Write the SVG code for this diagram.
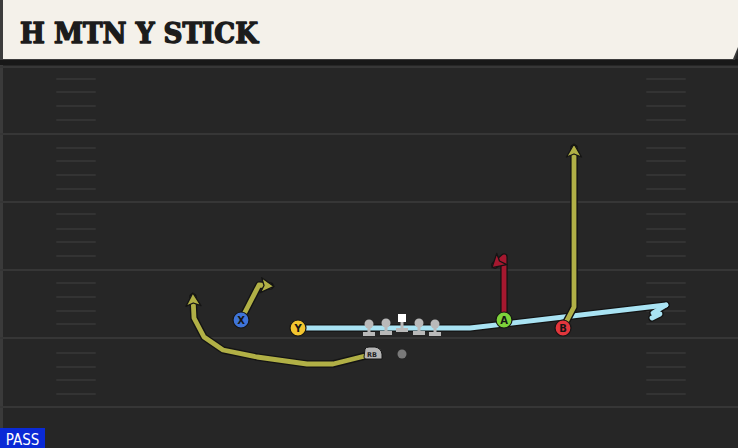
<svg xmlns="http://www.w3.org/2000/svg" width="738" height="448" viewBox="0 0 738 448">
<defs>
<style>
.yard{stroke:#363636;stroke-width:2}
.hash{stroke:#333333;stroke-width:2;stroke-linecap:round}
.outline{fill:none;stroke:#141414;stroke-width:7.5;stroke-linejoin:round;stroke-linecap:round}
.route{fill:none;stroke-width:4.8;stroke-linejoin:round;stroke-linecap:round}
.olive{stroke:#b1b046}
.red{stroke:#a5182f}
.blue{stroke:#a9e3f3}
.pl{stroke:#151515;stroke-width:1.2}
.lbl{font-family:"DejaVu Sans","Liberation Sans",sans-serif;font-weight:bold;font-size:10px;fill:#151515;text-anchor:middle}
.ol{fill:#b9b9b9}
</style>
<marker id="arOlive" viewBox="-14 -10 20 20" refX="0" refY="0" markerWidth="20" markerHeight="20" markerUnits="userSpaceOnUse" orient="auto">
<path d="M-9,-7.5 L4,0 L-9,7.5 L-6,0 Z" fill="#b1b046" stroke="#141414" stroke-width="1.3" stroke-linejoin="round"/>
</marker>
<marker id="arRed" viewBox="-14 -10 20 20" refX="0" refY="0" markerWidth="20" markerHeight="20" markerUnits="userSpaceOnUse" orient="auto">
<path d="M-9,-7.5 L4,0 L-9,7.5 L-6,0 Z" fill="#a5182f" stroke="#141414" stroke-width="1.3" stroke-linejoin="round"/>
</marker>
</defs>
<rect x="0" y="0" width="738" height="448" fill="#262626"/>
<rect x="0" y="60" width="3" height="388" fill="#3a3a3a"/>
<g id="field">
<line class="yard" x1="0" y1="67" x2="738" y2="67"/>
<line class="yard" x1="0" y1="134" x2="738" y2="134"/>
<line class="yard" x1="0" y1="202" x2="738" y2="202"/>
<line class="yard" x1="0" y1="270" x2="738" y2="270"/>
<line class="yard" x1="0" y1="338" x2="738" y2="338"/>
<line class="yard" x1="0" y1="407" x2="738" y2="407"/>
<g id="hashL">
<line class="hash" x1="57" y1="79" x2="95" y2="79"/><line class="hash" x1="57" y1="92" x2="95" y2="92"/><line class="hash" x1="57" y1="106" x2="95" y2="106"/><line class="hash" x1="57" y1="120" x2="95" y2="120"/>
<line class="hash" x1="57" y1="148" x2="95" y2="148"/><line class="hash" x1="57" y1="161" x2="95" y2="161"/><line class="hash" x1="57" y1="175" x2="95" y2="175"/><line class="hash" x1="57" y1="189" x2="95" y2="189"/>
<line class="hash" x1="57" y1="214" x2="95" y2="214"/><line class="hash" x1="57" y1="229" x2="95" y2="229"/><line class="hash" x1="57" y1="242" x2="95" y2="242"/><line class="hash" x1="57" y1="256" x2="95" y2="256"/>
<line class="hash" x1="57" y1="283" x2="95" y2="283"/><line class="hash" x1="57" y1="297" x2="95" y2="297"/><line class="hash" x1="57" y1="311" x2="95" y2="311"/><line class="hash" x1="57" y1="324" x2="95" y2="324"/>
<line class="hash" x1="57" y1="353" x2="95" y2="353"/><line class="hash" x1="57" y1="367" x2="95" y2="367"/><line class="hash" x1="57" y1="380" x2="95" y2="380"/><line class="hash" x1="57" y1="394" x2="95" y2="394"/>
</g>
<g id="hashR">
<line class="hash" x1="647" y1="79" x2="685" y2="79"/><line class="hash" x1="647" y1="92" x2="685" y2="92"/><line class="hash" x1="647" y1="106" x2="685" y2="106"/><line class="hash" x1="647" y1="120" x2="685" y2="120"/>
<line class="hash" x1="647" y1="148" x2="685" y2="148"/><line class="hash" x1="647" y1="161" x2="685" y2="161"/><line class="hash" x1="647" y1="175" x2="685" y2="175"/><line class="hash" x1="647" y1="189" x2="685" y2="189"/>
<line class="hash" x1="647" y1="214" x2="685" y2="214"/><line class="hash" x1="647" y1="229" x2="685" y2="229"/><line class="hash" x1="647" y1="242" x2="685" y2="242"/><line class="hash" x1="647" y1="256" x2="685" y2="256"/>
<line class="hash" x1="647" y1="283" x2="685" y2="283"/><line class="hash" x1="647" y1="297" x2="685" y2="297"/><line class="hash" x1="647" y1="311" x2="685" y2="311"/><line class="hash" x1="647" y1="324" x2="685" y2="324"/>
<line class="hash" x1="647" y1="353" x2="685" y2="353"/><line class="hash" x1="647" y1="367" x2="685" y2="367"/><line class="hash" x1="647" y1="380" x2="685" y2="380"/><line class="hash" x1="647" y1="394" x2="685" y2="394"/>
</g>
</g>
<g id="header">
<rect x="0" y="59" width="738" height="6" fill="#181818"/>
<path d="M0,0 H738 V50 L735,60 H0 Z" fill="#3c3c3c"/>
<path d="M3,0 H738 V47 L733,59 H3 Z" fill="#f4f1ea"/>
<text x="20" y="43" font-family="'DejaVu Serif Condensed','DejaVu Serif',serif" font-weight="bold" font-size="27" fill="#1c1c1c" stroke="#1c1c1c" stroke-width="1.3" stroke-linejoin="round" textLength="238" lengthAdjust="spacingAndGlyphs">H MTN Y STICK</text>
</g>
<g id="connectors">
<path class="outline" d="M298,328 H470 L666,305"/>
<path class="outline" d="M666,305 L653,313 L660,314 L652,318"/>
<path class="route blue" d="M298,328 H470 L666,305"/>
<path class="route blue" d="M666,305 L653,313 L660,314 L652,318" stroke-width="4"/>
<path class="outline" d="M241,320 L259,285 L270,286"/>
<path class="route olive" d="M241,320 L259,285 L270,286" marker-end="url(#arOlive)"/>
<path class="outline" d="M373,354 L333,364 L307,364 L257,357 L223,350 L204,337 L194,318 L193,297"/>
<path class="route olive" d="M373,354 L333,364 L307,364 L257,357 L223,350 L204,337 L194,318 L193,297" marker-end="url(#arOlive)"/>
<path class="outline" d="M504,320 V257 L495,265"/>
<path class="route red" d="M504,320 V257 L495,265" marker-end="url(#arRed)"/>
<path class="outline" d="M563,328 L574,307 V148"/>
<path class="route olive" d="M563,328 L574,307 V148" marker-end="url(#arOlive)"/>
</g>
<g id="OL1"><circle class="ol" cx="369" cy="324" r="4.5"/><rect class="ol" x="367.5" y="327" width="3" height="6"/><rect class="ol" x="363" y="332" width="12" height="4"/></g>
<g id="OL2"><circle class="ol" cx="386" cy="323" r="4.5"/><rect class="ol" x="384.5" y="326" width="3" height="6"/><rect class="ol" x="380" y="331" width="12" height="4"/></g>
<g id="C"><rect x="398" y="314" width="8" height="8" fill="#ffffff"/><rect class="ol" x="400.5" y="322" width="3" height="7"/><rect class="ol" x="396" y="328" width="12" height="4"/></g>
<g id="OL4"><circle class="ol" cx="419" cy="323" r="4.5"/><rect class="ol" x="417.5" y="326" width="3" height="6"/><rect class="ol" x="413" y="331" width="12" height="4"/></g>
<g id="OL5"><circle class="ol" cx="435" cy="324" r="4.5"/><rect class="ol" x="433.5" y="327" width="3" height="6"/><rect class="ol" x="429" y="332" width="12" height="4"/></g>
<g id="QB"><circle cx="402" cy="354" r="4.5" fill="#7a7a7a"/></g>
<g id="RB"><path d="M365,349 Q366,347 369,347 H375 Q381,348 382,354 V359 H366 Q364,359 364,357 Z" fill="#b5b5b5" stroke="#151515" stroke-width="1"/><text x="372" y="356.5" font-family="'DejaVu Sans',sans-serif" font-size="6.5" font-weight="bold" fill="#222" text-anchor="middle">RB</text></g>
<g id="X"><circle class="pl" cx="241" cy="320" r="8" fill="#3f74d8"/><text class="lbl" x="241" y="324">X</text></g>
<g id="Y"><circle class="pl" cx="298" cy="328" r="8" fill="#f3c52f"/><text class="lbl" x="298" y="332">Y</text></g>
<g id="A"><circle class="pl" cx="504" cy="320" r="8" fill="#7ed23a"/><text class="lbl" x="504" y="324">A</text></g>
<g id="B"><circle class="pl" cx="563" cy="328" r="8" fill="#e2363c"/><text class="lbl" x="563" y="332">B</text></g>
<g id="pass"><rect x="0" y="428" width="45" height="20" fill="#0a2ad6"/><text x="22.5" y="445" font-family="'DejaVu Sans Condensed','DejaVu Sans',sans-serif" font-size="15" fill="#ffffff" text-anchor="middle">PASS</text></g>
</svg>
